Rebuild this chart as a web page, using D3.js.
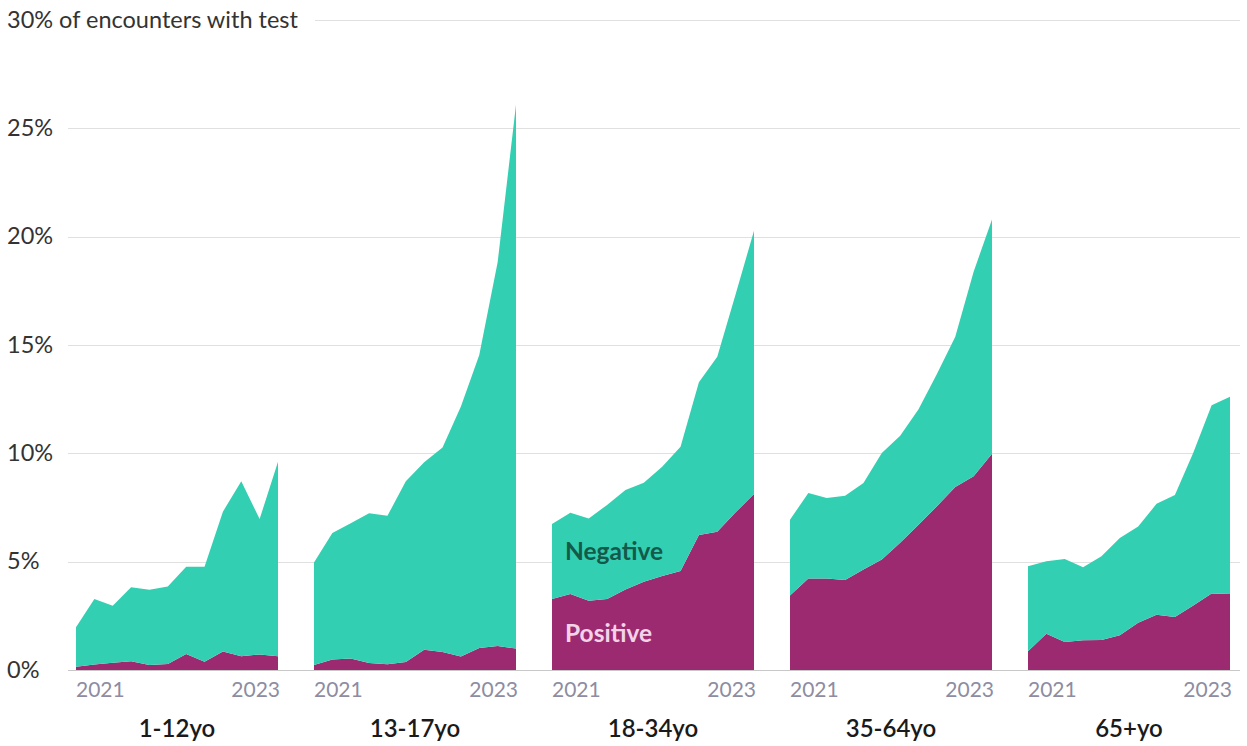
<!DOCTYPE html>
<html>
<head>
<meta charset="utf-8">
<script src="https://cdn.jsdelivr.net/npm/d3@7"></script>
<style>
  body { margin: 0; background: #fff; }
  text { font-family: Lato, "Noto Sans", sans-serif; }
</style>
</head>
<body>
<script>
// age groups, one small panel each
var groups = ["1-12yo", "13-17yo", "18-34yo", "35-64yo", "65+yo"];
// quarterly periods 2021 Q1 .. 2023 Q4
var quarters = ["2021Q1", "2021Q2", "2021Q3", "2021Q4", "2022Q1", "2022Q2",
  "2022Q3", "2022Q4", "2023Q1", "2023Q2", "2023Q3", "2023Q4"];
var yTicks = [0, 5, 10, 15, 20, 25, 30];
var xTickLabels = ["2021", "2023"];

// % of encounters with a positive test
var positive = [
  [0.15, 0.25, 0.33, 0.40, 0.23, 0.28, 0.74, 0.38, 0.85, 0.63, 0.72, 0.63],
  [0.23, 0.49, 0.53, 0.32, 0.27, 0.37, 0.94, 0.83, 0.62, 1.01, 1.11, 0.99],
  [3.28, 3.51, 3.20, 3.28, 3.72, 4.08, 4.34, 4.57, 6.23, 6.38, 7.28, 8.12],
  [3.44, 4.22, 4.22, 4.15, 4.64, 5.10, 5.87, 6.71, 7.56, 8.45, 8.94, 9.98],
  [0.87, 1.67, 1.29, 1.37, 1.38, 1.61, 2.18, 2.55, 2.45, 2.98, 3.53, 3.51]
];
// % of encounters with a negative test
var negative = [
  [1.82, 3.03, 2.64, 3.42, 3.48, 3.58, 4.03, 4.39, 6.46, 8.08, 6.25, 8.99],
  [4.73, 5.84, 6.24, 6.92, 6.85, 8.34, 8.65, 9.44, 11.54, 13.53, 17.71, 25.11],
  [3.46, 3.75, 3.80, 4.34, 4.59, 4.57, 5.04, 5.74, 7.05, 8.08, 10.07, 12.16],
  [3.50, 3.95, 3.72, 3.90, 3.99, 4.92, 4.94, 5.33, 6.11, 6.94, 9.45, 10.82],
  [3.92, 3.35, 3.83, 3.37, 3.87, 4.48, 4.45, 5.12, 5.63, 7.05, 8.69, 9.10]
];

var width = 1247;
var height = 746;
var colPos = "#9c2a71";
var colNeg = "#33cfb2";

var svg = d3.select("body")
  .append("svg")
  .attr("width", width)
  .attr("height", height);

var y = d3.scaleLinear().domain([0, 30]).range([670, 20.2]);

var panelLeft = 76;
var panelStep = 238;
var panelWidth = 202;

// grid lines
svg.selectAll("line.grid")
  .data(yTicks)
  .enter()
  .append("line")
  .attr("class", "grid")
  .attr("x1", function (d) { return d == 30 ? 315 : 68; })
  .attr("x2", 1240)
  .attr("y1", function (d) { return Math.round(y(d)) + 0.5; })
  .attr("y2", function (d) { return Math.round(y(d)) + 0.5; })
  .attr("stroke", function (d) { return d == 0 ? "#c8c8c8" : "#e0e0e0"; })
  .attr("stroke-width", 1);

// y labels
svg.selectAll("text.ylab")
  .data(yTicks)
  .enter()
  .append("text")
  .attr("class", "ylab")
  .attr("x", 7)
  .attr("y", function (d) { return y(d); })
  .attr("dy", "0.32em")
  .attr("font-size", "23.5px")
  .attr("fill", "#333")
  .text(function (d) { return d == 30 ? "30% of encounters with test" : d + "%"; });

var stack = d3.stack().keys(["positive", "negative"]);

groups.forEach(function (g, gi) {
  var x0 = panelLeft + gi * panelStep;
  var x = d3.scalePoint().domain(quarters).range([x0, x0 + panelWidth]);

  var rows = quarters.map(function (q, i) {
    return { q: q, positive: positive[gi][i], negative: negative[gi][i] };
  });
  var series = stack(rows);

  var area = d3.area()
    .x(function (d) { return x(d.data.q); })
    .y0(function (d) { return y(d[0]); })
    .y1(function (d) { return y(d[1]); });

  var panel = svg.append("g");

  panel.selectAll("path")
    .data(series)
    .enter()
    .append("path")
    .attr("d", area)
    .attr("fill", function (d) { return d.key == "positive" ? colPos : colNeg; });

  // year labels: first and last period
  panel.append("text")
    .attr("x", x(quarters[0]))
    .attr("y", 697)
    .attr("font-size", "21px")
    .attr("fill", "#8e8ca0")
    .attr("text-anchor", "start")
    .text(xTickLabels[0]);
  panel.append("text")
    .attr("x", x(quarters[quarters.length - 1]) + 2)
    .attr("y", 697)
    .attr("font-size", "21px")
    .attr("fill", "#8e8ca0")
    .attr("text-anchor", "end")
    .text(xTickLabels[1]);

  // group title
  panel.append("text")
    .attr("x", x0 + panelWidth / 2)
    .attr("y", 737)
    .attr("font-size", "24px")
    .attr("font-weight", "600")
    .attr("fill", "#1a1a1a")
    .attr("text-anchor", "middle")
    .text(g);

  // series labels only in the middle panel
  if (gi == 2) {
    panel.append("text")
      .attr("x", x0 + 13)
      .attr("y", 560)
      .attr("font-size", "24.5px")
      .attr("font-weight", "bold")
      .attr("fill", "#135a4b")
      .text("Negative");
    panel.append("text")
      .attr("x", x0 + 13)
      .attr("y", 642)
      .attr("font-size", "24.5px")
      .attr("font-weight", "bold")
      .attr("fill", "#f3d3e8")
      .text("Positive");
  }
});
</script>
</body>
</html>
